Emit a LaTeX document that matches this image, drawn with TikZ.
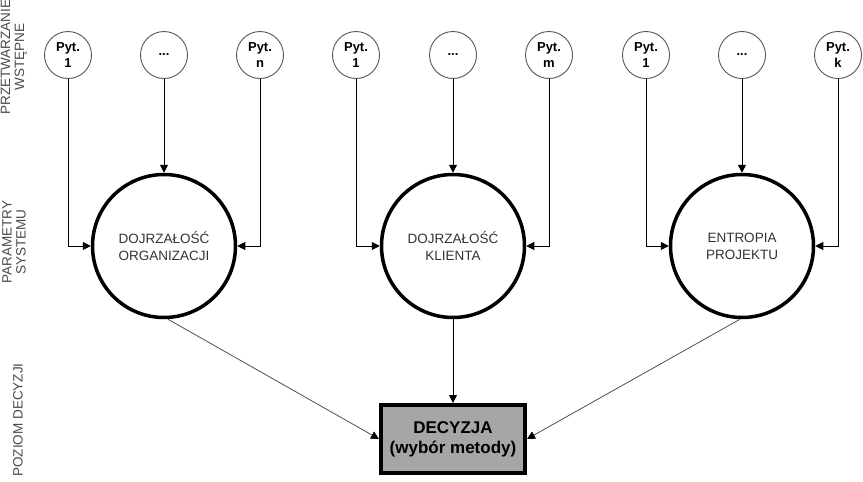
\documentclass[tikz,border=0pt]{standalone}
\usepackage{fontspec}
\setmainfont{Liberation Sans}
\usetikzlibrary{arrows.meta}
\definecolor{qgray}{HTML}{555555}
\definecolor{txtgray}{HTML}{333333}
\definecolor{lblgray}{HTML}{4A4A4A}
\definecolor{boxgray}{HTML}{A6A6A6}
\definecolor{diaggray}{HTML}{505050}
\begin{document}
\begin{tikzpicture}[x=1pt,y=-1pt,
  qnode/.style={circle, draw=qgray, line width=0.9pt, minimum size=47pt, inner sep=0pt, align=center, font=\bfseries\fontsize{13}{16}\selectfont},
  pnode/.style={circle, draw=black, line width=3.5pt, minimum size=143pt, inner sep=0pt, align=center, text=txtgray, font=\fontsize{13.5}{17}\selectfont},
  dnode/.style={draw=black, fill=boxgray, line width=4pt, minimum width=144pt, minimum height=68pt, align=center, font=\bfseries\fontsize{17}{20}\selectfont},
  lvl/.style={rotate=90, align=center, text=lblgray, font=\fontsize{13.5}{14}\selectfont},
  conn/.style={line width=0.9pt, -{Triangle[length=8pt,width=8pt]}},
  diag/.style={draw=diaggray, line width=0.8pt, -{Triangle[length=8pt,width=8pt,color=black]}},
]
\useasboundingbox (0,0) rectangle (863,482);

% level labels
\node[lvl] (l1) at (14,57) {PRZETWARZANIE\\WSTĘPNE};
\node[lvl] (l2) at (14,242) {PARAMETRY\\SYSTEMU};
\node[lvl] (l3) at (18,420) {POZIOM DECYZJI};

% question nodes
\node[qnode] (a1) at (68,55) {Pyt.\\1};
\node[qnode] (a2) at (164,55) {...};
\node[qnode] (a3) at (260,55) {Pyt.\\n};
\node[qnode] (b1) at (356,55) {Pyt.\\1};
\node[qnode] (b2) at (453,55) {...};
\node[qnode] (b3) at (549,55) {Pyt.\\m};
\node[qnode] (c1) at (646,55) {Pyt.\\1};
\node[qnode] (c2) at (742,55) {...};
\node[qnode] (c3) at (838,55) {Pyt.\\k};

% parameter nodes
\node[pnode] (pa) at (164,246) {DOJRZAŁOŚĆ\\ORGANIZACJI};
\node[pnode] (pb) at (453,246) {DOJRZAŁOŚĆ\\KLIENTA};
\node[pnode] (pc) at (742,246) {ENTROPIA\\PROJEKTU};

% decision
\node[dnode] (d) at (453,439) {DECYZJA\\(wybór metody)};

% connectors
\draw[conn] (a1.south) |- (pa.west);
\draw[conn] (a2.south) -- (pa.north);
\draw[conn] (a3.south) |- (pa.east);
\draw[conn] (b1.south) |- (pb.west);
\draw[conn] (b2.south) -- (pb.north);
\draw[conn] (b3.south) |- (pb.east);
\draw[conn] (c1.south) |- (pc.west);
\draw[conn] (c2.south) -- (pc.north);
\draw[conn] (c3.south) |- (pc.east);

\draw[diag] ([xshift=4pt]pa.south) -- (d.west);
\draw[conn] (pb.south) -- (d.north);
\draw[diag] ([xshift=-2pt]pc.south) -- (d.east);
\end{tikzpicture}
\end{document}
